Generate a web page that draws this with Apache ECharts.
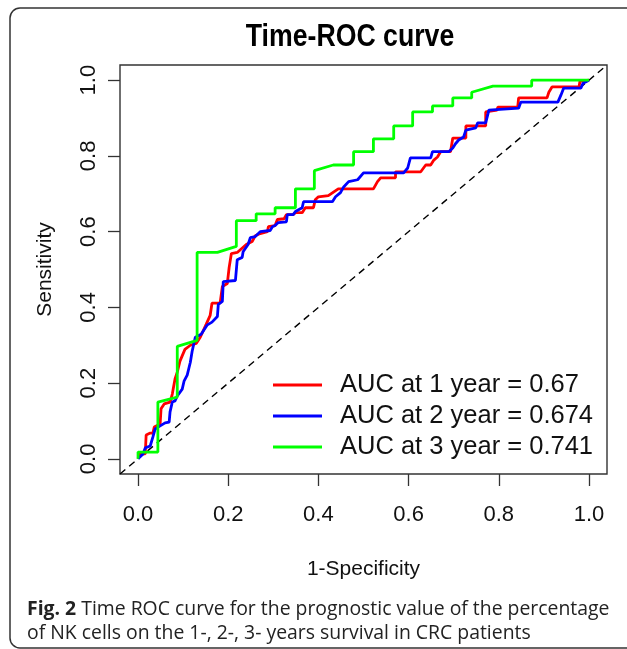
<!DOCTYPE html>
<html><head><meta charset="utf-8">
<script src="https://cdn.jsdelivr.net/npm/echarts@6/dist/echarts.min.js"></script>
<style>html,body{margin:0;padding:0;background:#fff}#c{width:627px;height:649px}</style>
</head><body><div id="c"></div>
<script>
// ---- data ----
const chartTitle = 'Time-ROC curve';
const xName = '1-Specificity';
const yName = 'Sensitivity';
const seriesNames = ['AUC at 1 year = 0.67', 'AUC at 2 year = 0.674', 'AUC at 3 year = 0.741'];
const seriesColors = ['#ff0000', '#0000ff', '#00ff00'];
const tickValues = [0, 0.2, 0.4, 0.6, 0.8, 1.0];
const tickLabels = ['0.0', '0.2', '0.4', '0.6', '0.8', '1.0'];
const refLine = [[-0.04, -0.04], [1.04, 1.04]];
const captionBold = 'Fig. 2';
const captionText = ' Time ROC curve for the prognostic value of the percentage\nof NK cells on the 1-, 2-, 3- years survival in CRC patients';

// [1-specificity, sensitivity]
const roc1 = [[0,0],[0.004,0.013],[0.016,0.013],[0.018,0.063],[0.027,0.068],[0.033,0.068],[0.036,0.084],[0.049,0.092],[0.051,0.132],[0.058,0.145],[0.071,0.15],[0.076,0.171],[0.082,0.211],[0.087,0.229],[0.093,0.258],[0.104,0.289],[0.116,0.3],[0.129,0.305],[0.138,0.321],[0.151,0.355],[0.16,0.379],[0.164,0.411],[0.182,0.411],[0.187,0.455],[0.198,0.463],[0.202,0.505],[0.207,0.542],[0.22,0.545],[0.24,0.566],[0.253,0.574],[0.26,0.589],[0.271,0.595],[0.287,0.6],[0.289,0.613],[0.304,0.616],[0.309,0.632],[0.324,0.634],[0.329,0.645],[0.344,0.645],[0.349,0.65],[0.364,0.65],[0.371,0.663],[0.389,0.663],[0.393,0.684],[0.4,0.692],[0.422,0.695],[0.444,0.713],[0.522,0.713],[0.531,0.732],[0.538,0.742],[0.571,0.742],[0.571,0.758],[0.627,0.758],[0.638,0.776],[0.649,0.776],[0.656,0.789],[0.664,0.797],[0.671,0.811],[0.693,0.811],[0.698,0.847],[0.727,0.847],[0.727,0.879],[0.771,0.879],[0.771,0.916],[0.796,0.921],[0.798,0.929],[0.842,0.929],[0.844,0.953],[0.907,0.953],[0.911,0.968],[0.918,0.982],[0.978,0.982],[0.98,0.997],[1,1]];
const roc2 = [[0,0],[0.004,0.003],[0.011,0.013],[0.016,0.029],[0.027,0.034],[0.033,0.058],[0.038,0.079],[0.049,0.087],[0.06,0.095],[0.069,0.097],[0.071,0.124],[0.076,0.15],[0.082,0.153],[0.087,0.166],[0.098,0.184],[0.102,0.205],[0.109,0.221],[0.116,0.255],[0.12,0.284],[0.127,0.321],[0.14,0.329],[0.153,0.353],[0.164,0.361],[0.176,0.376],[0.178,0.408],[0.187,0.416],[0.189,0.468],[0.216,0.471],[0.22,0.526],[0.231,0.532],[0.233,0.547],[0.244,0.566],[0.249,0.584],[0.26,0.587],[0.271,0.6],[0.293,0.603],[0.298,0.613],[0.304,0.616],[0.311,0.624],[0.329,0.626],[0.331,0.645],[0.344,0.645],[0.349,0.653],[0.364,0.663],[0.367,0.679],[0.431,0.679],[0.438,0.692],[0.449,0.703],[0.456,0.718],[0.467,0.732],[0.471,0.737],[0.487,0.737],[0.5,0.755],[0.589,0.755],[0.598,0.768],[0.604,0.795],[0.649,0.795],[0.653,0.811],[0.689,0.811],[0.698,0.821],[0.704,0.832],[0.711,0.842],[0.722,0.85],[0.727,0.868],[0.749,0.874],[0.753,0.887],[0.771,0.887],[0.776,0.911],[0.778,0.921],[0.844,0.926],[0.849,0.942],[0.931,0.942],[0.938,0.961],[0.944,0.979],[0.982,0.979],[0.987,0.992],[1,1]];
const roc3 = [[0,0],[0,0.018],[0.044,0.018],[0.044,0.15],[0.087,0.163],[0.087,0.297],[0.131,0.313],[0.131,0.545],[0.176,0.545],[0.218,0.561],[0.218,0.629],[0.262,0.629],[0.262,0.647],[0.304,0.647],[0.304,0.663],[0.349,0.663],[0.349,0.713],[0.391,0.713],[0.391,0.761],[0.433,0.776],[0.478,0.776],[0.478,0.811],[0.522,0.811],[0.522,0.845],[0.567,0.845],[0.567,0.879],[0.609,0.879],[0.609,0.916],[0.653,0.916],[0.653,0.932],[0.698,0.932],[0.698,0.953],[0.74,0.953],[0.74,0.968],[0.787,0.984],[0.873,0.984],[0.873,1],[1,1]];
const rocData = [roc1, roc2, roc3];

// ---- chart ----
const FONT = '"Liberation Sans", Arial, sans-serif';
const chart = echarts.init(document.getElementById('c'), null, {renderer: 'canvas'});
function tickLabel(v) {
  const i = tickValues.findIndex(t => Math.abs(t - v) < 1e-9);
  return i >= 0 ? tickLabels[i] : '';
}
function makeAxis(isY) {
  return {
    type: 'value', min: -0.04, max: 1.04,
    axisLine: {show: false, onZero: false},
    splitLine: {show: false},
    axisTick: {show: true, inside: false, customValues: tickValues, length: 12, lineStyle: {color: '#333', width: 1.3}},
    axisLabel: {customValues: tickValues, formatter: tickLabel, fontSize: 22, color: '#111', fontFamily: FONT,
      margin: isY ? 20 : 30, rotate: isY ? 90 : 0},
    name: isY ? yName : xName,
    nameLocation: 'middle',
    nameGap: isY ? 64 : 85,
    nameTextStyle: {fontSize: 21, color: '#111', fontFamily: FONT}
  };
}
const series = [{
  name: 'ref', type: 'line', data: refLine, showSymbol: false, silent: true,
  lineStyle: {color: '#000', width: 1.4, type: [7, 5]}, z: 1
}];
rocData.forEach((d, i) => {
  series.push({
    name: seriesNames[i], type: 'line', data: d, showSymbol: false,
    lineStyle: {color: seriesColors[i], width: 2.8},
    itemStyle: {color: seriesColors[i]}, z: 2 + i
  });
});
chart.setOption({
  animation: false,
  backgroundColor: '#fff',
  grid: {left: 120, top: 65, width: 487, height: 409, show: true, borderColor: '#333', borderWidth: 1.4, backgroundColor: 'transparent'},
  xAxis: makeAxis(false),
  yAxis: makeAxis(true),
  legend: {
    data: seriesNames, orient: 'vertical', left: 268, top: 367, icon: 'rect',
    itemWidth: 49, itemHeight: 3, itemGap: 5, selectedMode: false,
    textStyle: {fontSize: 25.5, color: '#111', fontFamily: FONT, padding: [0, 0, 0, 13]}
  },
  series: series,
  graphic: [
    {type: 'rect', shape: {x: 10, y: 8, width: 650, height: 640, r: 10}, style: {fill: 'none', stroke: '#333', lineWidth: 1.5}, silent: true},
    {type: 'text', x: 350, y: 37, scaleX: 0.86,
      style: {text: chartTitle, x: 0, y: 0, align: 'center', verticalAlign: 'middle', fontSize: 31, fontWeight: 'bold', fontFamily: FONT, fill: '#000'}},
    {type: 'text', style: {
      text: '{b|' + captionBold + '}' + captionText, x: 27, y: 597,
      fontSize: 19.4, lineHeight: 24, fontFamily: '"Open Sans", sans-serif', fill: '#222',
      rich: {b: {fontWeight: 'bold', fontSize: 19.4, lineHeight: 24, fontFamily: '"Open Sans", sans-serif', fill: '#222'}}
    }}
  ]
});
</script>
</body></html>
